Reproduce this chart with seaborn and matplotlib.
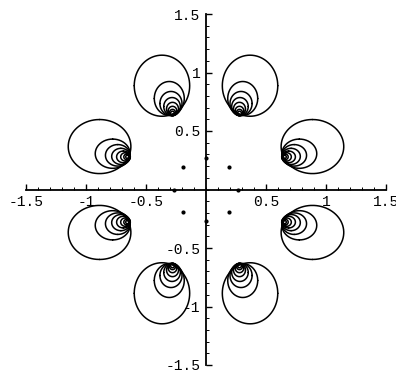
import numpy as np
import pandas as pd
import matplotlib
matplotlib.use("Agg")
import matplotlib.pyplot as plt
from matplotlib.ticker import FixedLocator, MultipleLocator, FuncFormatter
import seaborn as sns

# One family of nested ovals (the one near angle 67.5 deg); the other seven
# families are its images under the symmetries of the square.
center_x = [0.367, 0.306, 0.292, 0.283, 0.279, 0.279, 0.279, 0.279]
center_y = [0.887, 0.778, 0.735, 0.709, 0.688, 0.671, 0.658, 0.650]
radius_x = [0.231, 0.125, 0.092, 0.069, 0.050, 0.036, 0.025, 0.017]
radius_y = [0.261, 0.145, 0.103, 0.077, 0.057, 0.040, 0.027, 0.019]

# Isolated points around the origin
dot_x = [0.27, 0.19, 0.0, -0.19, -0.27, -0.19, 0.0, 0.19]
dot_y = [0.0, 0.19, 0.27, 0.19, 0.0, -0.19, -0.27, -0.19]

tick_values = [-1.5, -1.0, -0.5, 0.5, 1.0, 1.5]

symmetries = [
    (1, 1, False), (1, 1, True), (-1, 1, False), (-1, 1, True),
    (1, -1, False), (1, -1, True), (-1, -1, False), (-1, -1, True),
]

t = np.linspace(0, 2 * np.pi, 241)
rows = []
curve = 0
for sx, sy, swap in symmetries:
    for cx, cy, rx, ry in zip(center_x, center_y, radius_x, radius_y):
        px = cx + rx * np.cos(t)
        py = cy + ry * np.sin(t)
        if swap:
            px, py = py, px
        rows.append(pd.DataFrame({"x": sx * px, "y": sy * py, "curve": curve}))
        curve += 1
curves = pd.concat(rows, ignore_index=True)
dots = pd.DataFrame({"x": dot_x, "y": dot_y})

plt.rcParams["axes.unicode_minus"] = False
sns.set_style("white")
plt.rcParams["font.family"] = ["Liberation Mono", "DejaVu Sans Mono"]

fig = plt.figure(figsize=(3.96, 3.75), dpi=100)
ax = fig.add_axes([26 / 396, 10 / 375, 360 / 396, 351 / 375])

sns.lineplot(data=curves, x="x", y="y", units="curve", estimator=None,
             sort=False, color="black", linewidth=1.1, ax=ax, legend=False)
sns.scatterplot(data=dots, x="x", y="y", color="black", s=9,
                linewidth=0, ax=ax, legend=False, zorder=5, clip_on=False)

ax.set_xlim(-1.5, 1.5)
ax.set_ylim(-1.5, 1.5)
ax.set_xlabel("")
ax.set_ylabel("")

for side in ("top", "right"):
    ax.spines[side].set_visible(False)
for side in ("left", "bottom"):
    ax.spines[side].set_position("zero")
    ax.spines[side].set_linewidth(1.3)
    ax.spines[side].set_color("black")

fmt = FuncFormatter(lambda v, p: f"{v:g}")
for axis in (ax.xaxis, ax.yaxis):
    axis.set_major_locator(FixedLocator(tick_values))
    axis.set_minor_locator(MultipleLocator(0.1))
    axis.set_major_formatter(fmt)

ax.tick_params(which="major", direction="in", length=4, width=1.0,
               labelsize=10.5, colors="black", pad=4)
ax.tick_params(which="minor", direction="in", length=2, width=0.7,
               colors="black")
ax.tick_params(axis="x", which="both", bottom=True)
ax.tick_params(axis="y", which="both", left=True)

fig.savefig("out.png", dpi=100, facecolor="white")
